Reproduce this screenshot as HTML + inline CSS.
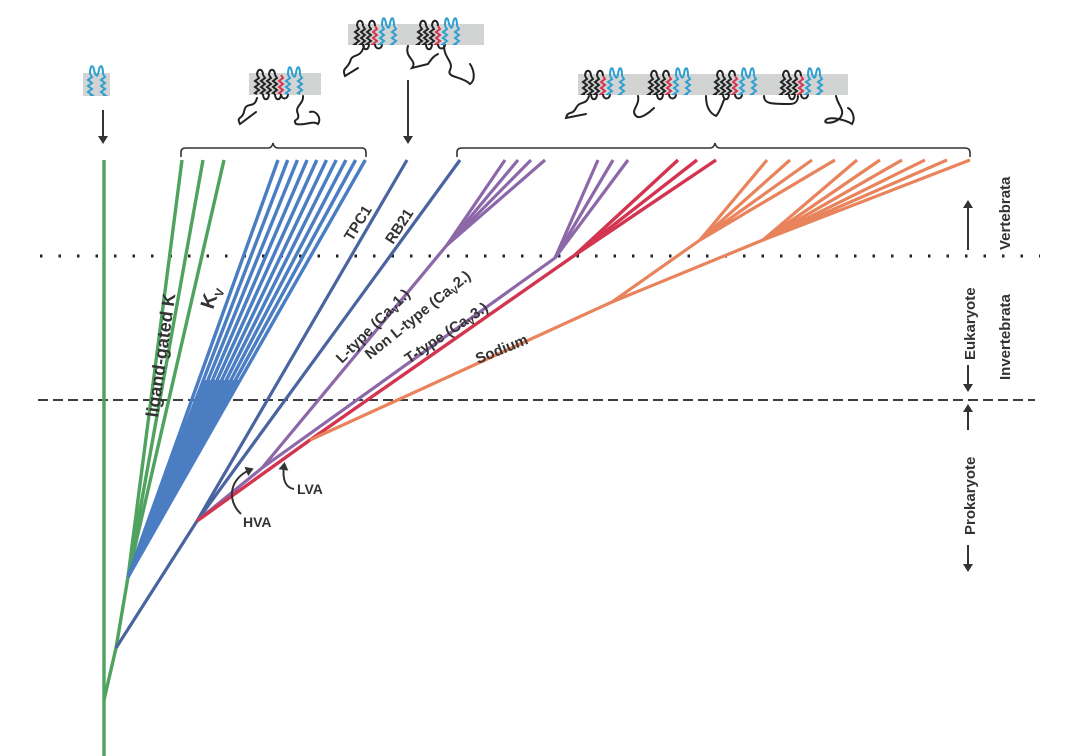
<!DOCTYPE html>
<html><head><meta charset="utf-8">
<style>
html,body{margin:0;padding:0;background:#fff;}
svg{display:block;}
text{font-family:"Liberation Sans",Arial,sans-serif;font-weight:bold;fill:#333;}
</style></head>
<body>
<svg id="s" width="1080" height="756" viewBox="0 0 1080 756" xmlns="http://www.w3.org/2000/svg">
<defs>
<marker id="ah" markerWidth="8" markerHeight="10" refX="4" refY="5" orient="auto" markerUnits="userSpaceOnUse">
<path d="M0,0 L8,5 L0,10 Z" fill="#333"/></marker>
</defs>
<rect x="83" y="73" width="27" height="23" fill="#d2d4d4"/>
<rect x="249" y="73" width="72" height="22" fill="#d2d4d4"/>
<rect x="348" y="24" width="136" height="21" fill="#d2d4d4"/>
<rect x="578" y="74" width="270" height="21" fill="#d2d4d4"/>
<g id="helices" fill="none" stroke-width="2"></g>
<g fill="none" stroke="#222" stroke-width="2" stroke-linecap="round">
<path d="M257,98 C254,110 246,100 244,112 C242,120 236,116 240,124 L256,112"/>
<path d="M303,96 C304,104 294,106 298,114 C300,122 292,118 296,124 C306,126 312,120 318,124 C322,118 316,110 310,112"/>
<path d="M364,46 C360,60 352,52 350,62 C346,70 342,68 345,76 L358,68"/>
<path d="M408,46 C404,58 418,60 412,68 L428,64 C432,58 434,56 438,54"/>
<path d="M444,46 C444,58 454,62 450,70 C446,78 462,76 470,84 C476,80 474,70 470,64"/>
<path d="M589,96 C586,106 580,100 576,108 C572,116 568,110 566,118 L586,114"/>
<path d="M638,96 C640,106 630,110 636,116 C640,120 650,112 654,108"/>
<path d="M706,96 C706,110 712,114 716,116 C720,112 722,104 724,100"/>
<path d="M764,96 C764,104 772,104 790,104 C796,104 798,100 798,96"/>
<path d="M836,96 C838,106 846,110 840,118 C834,124 822,124 826,120 C830,116 846,120 852,124 C856,118 852,110 848,108"/>
</g>
<g stroke="#333" stroke-width="2">
<line x1="103" y1="110" x2="103" y2="140" marker-end="url(#ah)"/>
<line x1="408" y1="80" x2="408" y2="140" marker-end="url(#ah)"/>
</g>
<g fill="none" stroke="#333" stroke-width="1.6">
<path d="M181,157 L181,152 Q181,148 186,148 L268,148 Q272,148 273,143 Q274,148 278,148 L362,148 Q366,148 366,153 L366,157"/>
<path d="M457,157 L457,152 Q457,148 462,148 L710,148 Q714,148 715,143 Q716,148 720,148 L965,148 Q970,148 970,153 L970,157"/>
</g>
<line x1="40" y1="256" x2="1040" y2="256" stroke="#222" stroke-width="3" stroke-dasharray="2.5,16"/>
<line x1="38" y1="400" x2="1035" y2="400" stroke="#222" stroke-width="1.8" stroke-dasharray="10,5"/>
<g fill="none" stroke-linecap="butt">
<g stroke="#4fa35e" stroke-width="3.4">
<path d="M104,756 L104,160"/>
<path d="M104,700 L116,648 L128,577"/>
<path d="M128,577 L182,160"/>
<path d="M128,577 L203,160"/>
<path d="M128,577 L224,160"/>
</g>
<g stroke="#4a7dc2" stroke-width="3.4" id="kv"></g>
<polygon points="128,577 204,380 240,380" fill="#4a7dc2"/>
<g stroke="#4a64a0" stroke-width="3.2">
<path d="M116,648 L197,521 L407,160"/>
<path d="M197,521 L460,160"/>
</g>
<g stroke="#8c68a8" stroke-width="3.2" id="pur">
<path d="M197,521 L262,468 L447,245"/>
<path d="M262,468 L555,258"/>
</g>
<g stroke="#d3344f" stroke-width="3.4" id="red">
<path d="M197,521 L310,440 L575,255"/>
</g>
<g stroke="#e8835c" stroke-width="3.2" id="ora">
<path d="M310,440 L612,302 L700,240"/>
<path d="M612,302 L763,240"/>
</g>
</g>
<text transform="translate(158,418) rotate(-82)" font-size="18">ligand-gated K</text>
<text transform="translate(213,310) rotate(-72)" font-size="20">K<tspan font-size="12" dy="5">V</tspan></text>
<text transform="translate(352,242) rotate(-58)" font-size="15">TPC1</text>
<text transform="translate(393,245) rotate(-57)" font-size="15">RB21</text>
<text transform="translate(342,364) rotate(-45)" font-size="15">L-type (Ca<tspan font-size="10" dy="3">V</tspan><tspan dy="-3">1.)</tspan></text>
<text transform="translate(370,360) rotate(-39)" font-size="15">Non L-type (Ca<tspan font-size="10" dy="3">V</tspan><tspan dy="-3">2.)</tspan></text>
<text transform="translate(409,364) rotate(-34)" font-size="15">T-type (Ca<tspan font-size="10" dy="3">V</tspan><tspan dy="-3">3.)</tspan></text>
<text transform="translate(478,364) rotate(-22)" font-size="15">Sodium</text>
<text x="243" y="527" font-size="14">HVA</text>
<text x="297" y="494" font-size="14">LVA</text>
<g fill="none" stroke="#333" stroke-width="2">
<path d="M241,514 C226,500 230,478 250,470" marker-end="url(#ah)"/>
<path d="M294,489 C286,488 282,480 284,466" marker-end="url(#ah)"/>
</g>
<g stroke="#333" stroke-width="2">
<line x1="968" y1="250" x2="968" y2="204" marker-end="url(#ah)"/>
<line x1="968" y1="365" x2="968" y2="388" marker-end="url(#ah)"/>
<line x1="968" y1="430" x2="968" y2="408" marker-end="url(#ah)"/>
<line x1="968" y1="545" x2="968" y2="568" marker-end="url(#ah)"/>
</g>
<text transform="translate(1010,250) rotate(-90)" font-size="15">Vertebrata</text>
<text transform="translate(975,360) rotate(-90)" font-size="15">Eukaryote</text>
<text transform="translate(1010,380) rotate(-90)" font-size="15">Invertebrata</text>
<text transform="translate(975,535) rotate(-90)" font-size="15">Prokaryote</text>
</svg>
<script>
var NS="http://www.w3.org/2000/svg";
function P(g,d,attrs){var p=document.createElementNS(NS,"path");p.setAttribute("d",d);for(var k in attrs)p.setAttribute(k,attrs[k]);g.appendChild(p);return p;}
function L(id,x1,y1,x2,y2){var g=document.getElementById(id);P(g,"M"+x1+","+y1+" L"+x2+","+y2);}
for(var i=0;i<10;i++){L("kv",128,577,278+i*9.7,160);}
[505,518,531,545].forEach(function(x){L("pur",447,245,x,160);});
[598,613,628].forEach(function(x){L("pur",555,258,x,160);});
[678,697,716].forEach(function(x){L("red",575,255,x,160);});
[767,790,812,835].forEach(function(x){L("ora",700,240,x,160);});
[857,880,902,925,947,970].forEach(function(x){L("ora",763,240,x,160);});
var H=document.getElementById("helices");
function zig(x,y1,y2){var d="M"+x+","+y1;var s=1;for(var y=y1+3;y<=y2;y+=3){d+=" L"+(x+s*2)+","+y;s=-s;}d+=" L"+x+","+y2;return d;}
function seg(x,y1,y2,c){P(H,zig(x,y1,y2),{stroke:c});}
function domain(x0,y1,y2,nb){
 var xs=[],cols=[];
 for(var i=0;i<nb;i++){xs.push(x0+i*6);cols.push("#222");}
 var xr=x0+nb*6;xs.push(xr);cols.push("#d3344f");
 for(var i=0;i<xs.length;i++){seg(xs[i],y1,y2,cols[i]);}
 for(var i=0;i<xs.length-1;i++){var top=(i%2==0);var yy=top?y1:y2;var ctrl=top?y1-7:y2+7;
   P(H,"M"+xs[i]+","+yy+" C"+xs[i]+","+ctrl+" "+xs[i+1]+","+ctrl+" "+xs[i+1]+","+yy,{stroke:"#222"});}
 var b1=xr+7,b2=xr+19;
 P(H,"M"+xr+","+y2+" C"+xr+","+(y2+6)+" "+b1+","+(y2+6)+" "+b1+","+y2,{stroke:"#222"});
 seg(b1,y1,y2,"#2f9fd0");seg(b2,y1,y2,"#2f9fd0");
 var m=(b1+b2)/2;
 P(H,"M"+b1+","+y1+" C"+b1+","+(y1-10)+" "+(m-3)+","+(y1-10)+" "+(m-2)+","+(y1-2)+" C"+(m)+","+(y1+3)+" "+(m+1)+","+(y1+3)+" "+(m+2)+","+(y1-2)+" C"+(m+3)+","+(y1-10)+" "+b2+","+(y1-10)+" "+b2+","+y1,{stroke:"#2f9fd0"});
 return b2;
}
(function(){var y1=74,y2=95,b1=90,b2=103,m=96.5;seg(b1,y1,y2,"#2f9fd0");seg(b2,y1,y2,"#2f9fd0");
P(H,"M"+b1+","+y1+" C"+b1+",64 "+(m-3)+",64 "+(m-2)+","+(y1-2)+" C"+m+","+(y1+3)+" "+(m+1)+","+(y1+3)+" "+(m+2)+","+(y1-2)+" C"+(m+3)+",64 "+b2+",64 "+b2+","+y1,{stroke:"#2f9fd0"});})();
domain(257,75,94,4);
domain(357,26,44,3);domain(420,26,44,3);
domain(585,76,94,3);domain(651,76,94,3);domain(717,76,94,3);domain(783,76,94,3);
</script>
</body></html>
